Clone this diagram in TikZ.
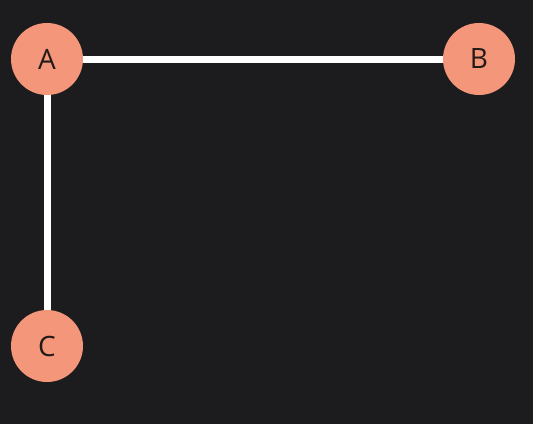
\documentclass[tikz,border=0pt]{standalone}
\usepackage{fontspec}
\setmainfont{Open Sans}
\definecolor{bgc}{HTML}{1C1B1D}
\definecolor{nodec}{HTML}{F4967A}
\definecolor{txtc}{HTML}{231A17}
\begin{document}
\begin{tikzpicture}[x=1pt,y=1pt,
  vert/.style={circle,fill=nodec,draw=none,minimum size=72pt,inner sep=0pt,text=txtc,font=\fontsize{28}{32}\selectfont},
  edge/.style={draw=white,line width=7pt}]
\fill[bgc] (0,0) rectangle (533,-424);
\useasboundingbox (0,0) rectangle (533,-424);
\node[vert] (A) at (47,-59) {A};
\node[vert] (B) at (479,-59) {B};
\node[vert] (C) at (47,-346) {C};
\draw[edge] (A) -- (B);
\draw[edge] (A) -- (C);
\end{tikzpicture}
\end{document}
